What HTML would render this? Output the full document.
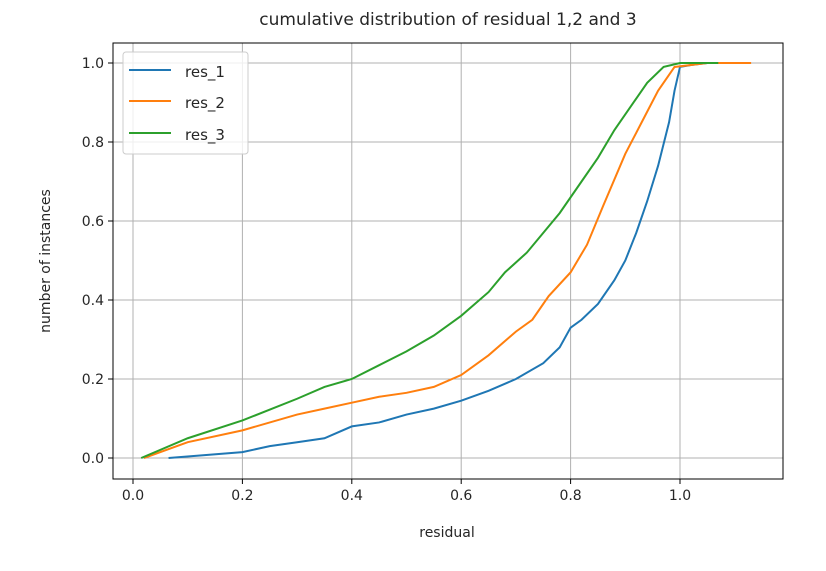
<!DOCTYPE html>
<html><head><meta charset="utf-8"><style>
body{margin:0;background:#fff}
text{font-family:"DejaVu Sans","Liberation Sans",sans-serif;fill:#262626}
</style></head><body>
<svg id="c" width="826" height="566">
<text x="448" y="25" font-size="17" text-anchor="middle">cumulative distribution of residual 1,2 and 3</text>
<g id="grid"></g><g id="series"></g><g id="axes"></g>
<text x="447" y="537" font-size="14" text-anchor="middle">residual</text>
<text transform="translate(50,261) rotate(-90)" font-size="14" text-anchor="middle">number of instances</text>
<g>
<rect x="123" y="52" width="125" height="102" rx="3" fill="#fff" fill-opacity="0.8" stroke="#ccc"/>
<line x1="129" y1="70" x2="171" y2="70" stroke="#1f77b4" stroke-width="2"/><text x="185" y="77" font-size="15">res_1</text>
<line x1="129" y1="101" x2="171" y2="101" stroke="#ff7f0e" stroke-width="2"/><text x="185" y="108" font-size="15">res_2</text>
<line x1="129" y1="133" x2="171" y2="133" stroke="#2ca02c" stroke-width="2"/><text x="185" y="140" font-size="15">res_3</text>
</g>
</svg>
<script>
const xTicks=[0,0.2,0.4,0.6,0.8,1.0];
const yTicks=[0,0.2,0.4,0.6,0.8,1.0];
const res1X=[0.065,0.2,0.25,0.3,0.35,0.4,0.45,0.5,0.55,0.6,0.65,0.7,0.75,0.78,0.8,0.82,0.85,0.88,0.9,0.92,0.94,0.96,0.98,0.99,1.0,1.02,1.05];
const res1Y=[0.0,0.015,0.03,0.04,0.05,0.08,0.09,0.11,0.125,0.145,0.17,0.2,0.24,0.28,0.33,0.35,0.39,0.45,0.5,0.57,0.65,0.74,0.85,0.93,0.99,0.995,1.0];
const res2X=[0.02,0.1,0.2,0.3,0.35,0.4,0.45,0.5,0.55,0.6,0.65,0.7,0.73,0.76,0.8,0.83,0.86,0.9,0.93,0.96,0.99,1.05,1.13];
const res2Y=[0,0.04,0.07,0.11,0.125,0.14,0.155,0.165,0.18,0.21,0.26,0.32,0.35,0.41,0.47,0.54,0.64,0.77,0.85,0.93,0.99,1.0,1.0];
const res3X=[0.015,0.1,0.2,0.3,0.35,0.4,0.45,0.5,0.55,0.6,0.65,0.68,0.72,0.75,0.78,0.82,0.85,0.88,0.91,0.94,0.97,1.0,1.07];
const res3Y=[0,0.05,0.095,0.15,0.18,0.2,0.235,0.27,0.31,0.36,0.42,0.47,0.52,0.57,0.62,0.7,0.76,0.83,0.89,0.95,0.99,1.0,1.0];
const L=113,R=783,T=43,B=479;
const sx=v=>133+v*547, sy=v=>458-v*395;
const NS="http://www.w3.org/2000/svg";
function mk(t,a,p){const e=document.createElementNS(NS,t);for(const k in a)e.setAttribute(k,a[k]);p.appendChild(e);return e;}
const grid=document.getElementById('grid'),axes=document.getElementById('axes'),ser=document.getElementById('series');
xTicks.forEach(v=>{
const g=mk('line',{x1:sx(v),x2:sx(v),y1:T,y2:B,stroke:'#b0b0b0','stroke-width':1},grid);


mk('line',{x1:sx(v),x2:sx(v),y1:B,y2:B+5,stroke:'#000'},axes);
const t=mk('text',{x:sx(v),y:B+21,'font-size':14,'text-anchor':'middle'},axes);t.textContent=v.toFixed(1);


});
yTicks.forEach(v=>{
const g=mk('line',{x1:L,x2:R,y1:sy(v),y2:sy(v),stroke:'#b0b0b0','stroke-width':1},grid);


mk('line',{x1:L-5,x2:L,y1:sy(v),y2:sy(v),stroke:'#000'},axes);
const t=mk('text',{x:L-9,y:sy(v)+5,'font-size':14,'text-anchor':'end'},axes);t.textContent=v.toFixed(1);


});
const fr=mk('rect',{x:L,y:T,width:R-L,height:B-T,fill:'none',stroke:'#000','stroke-width':1},axes);


[[res1X,res1Y,'#1f77b4','res-1-line'],[res2X,res2Y,'#ff7f0e','res-2-line'],[res3X,res3Y,'#2ca02c','res-3-line']].forEach(([xs,ys,c,n])=>{
const p=mk('polyline',{points:xs.map((x,i)=>sx(x)+','+sy(ys[i])).join(' '),fill:'none',stroke:c,'stroke-width':2},ser);


});
</script>
</body></html>
